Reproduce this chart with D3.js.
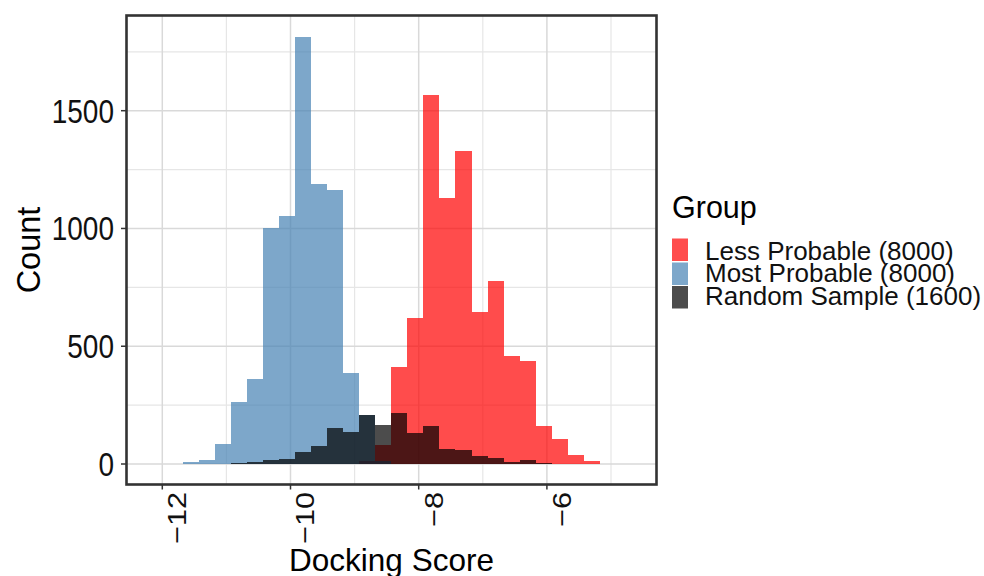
<!DOCTYPE html>
<html>
<head>
<meta charset="utf-8">
<script src="https://cdn.jsdelivr.net/npm/d3@7"></script>
<style>
  html, body { margin: 0; padding: 0; background: #fff; }
  svg { display: block; font-family: "Liberation Sans", Arial, Helvetica, sans-serif; }
</style>
</head>
<body>
<svg id="chart" width="984" height="576"></svg>
<script>
// ---- data ----
const binEdges = [-12.185, -11.935, -11.684, -11.434, -11.183, -10.933, -10.682, -10.432,
  -10.181, -9.931, -9.680, -9.430, -9.179, -8.929, -8.678, -8.428, -8.177, -7.927,
  -7.676, -7.426, -7.175, -6.925, -6.674, -6.424, -6.173, -5.923, -5.672, -5.422,
  -5.171, -4.921, -4.670];
const lessProbable = [2, 0, 0, 0, 0, 0, 0, 0, 0, 0, 0, 0, 0, 12, 81, 411, 619, 1567, 1129,
  1329, 645, 778, 460, 438, 161, 106, 38, 13, 0, 2];
const mostProbable = [0, 0, 10, 16, 84, 265, 360, 1000, 1055, 1814, 1190, 1163, 388, 209,
  14, 0, 0, 0, 0, 0, 0, 0, 0, 0, 0, 0, 0, 0, 0, 0];
const randomSample = [0, 0, 0, 0, 1, 4, 8, 19, 20, 52, 76, 152, 135, 208, 166, 215, 130,
  160, 64, 58, 33, 27, 7, 15, 4, 1, 0, 0, 0, 0];
const groupNames = ["Less Probable (8000)", "Most Probable (8000)", "Random Sample (1600)"];
const groupColors = ["red", "steelblue", "black"];
const xMajorTicks = [-12, -10, -8, -6];
const xMinorTicks = [-11, -9, -7, -5];
const yMajorTicks = [0, 500, 1000, 1500];
const yMinorTicks = [250, 750, 1250, 1750];
const xTitle = "Docking Score";
const yTitle = "Count";
const legendTitle = "Group";

// ---- layout ----
const svg = d3.select("#chart");
const panel = { left: 126.5, top: 15.5, right: 656.5, bottom: 484.5 };
const x = d3.scaleLinear().domain([-12, -5]).range([162.3, 611]);
const y = d3.scaleLinear().domain([0, 1500]).range([464, 110.7]);
const minus = s => String(s).replace("-", "\u2212");

// gridlines
const grid = svg.append("g");
grid.selectAll("line.xmin").data(xMinorTicks).join("line")
  .attr("x1", d => x(d)).attr("x2", d => x(d))
  .attr("y1", panel.top).attr("y2", panel.bottom)
  .attr("stroke", "#e6e6e6").attr("stroke-width", 1.2);
grid.selectAll("line.ymin").data(yMinorTicks).join("line")
  .attr("y1", d => y(d)).attr("y2", d => y(d))
  .attr("x1", panel.left).attr("x2", panel.right)
  .attr("stroke", "#e6e6e6").attr("stroke-width", 1.2);
grid.selectAll("line.xmaj").data(xMajorTicks).join("line")
  .attr("x1", d => x(d)).attr("x2", d => x(d))
  .attr("y1", panel.top).attr("y2", panel.bottom)
  .attr("stroke", "#d9d9d9").attr("stroke-width", 1.5);
grid.selectAll("line.ymaj").data(yMajorTicks).join("line")
  .attr("y1", d => y(d)).attr("y2", d => y(d))
  .attr("x1", panel.left).attr("x2", panel.right)
  .attr("stroke", "#d9d9d9").attr("stroke-width", 1.5);

// bars
const series = [lessProbable, mostProbable, randomSample];
series.forEach((vals, gi) => {
  svg.append("g").selectAll("rect").data(vals).join("rect")
    .attr("x", (d, i) => x(binEdges[i]))
    .attr("width", (d, i) => x(binEdges[i + 1]) - x(binEdges[i]))
    .attr("y", d => y(d))
    .attr("height", d => y(0) - y(d))
    .attr("fill", groupColors[gi])
    .attr("fill-opacity", 0.7)
    .attr("shape-rendering", "crispEdges");
});

// panel border
svg.append("rect")
  .attr("x", panel.left).attr("y", panel.top)
  .attr("width", panel.right - panel.left).attr("height", panel.bottom - panel.top)
  .attr("fill", "none").attr("stroke", "#333333").attr("stroke-width", 2.6);

// y axis ticks + labels
svg.append("g").selectAll("line").data(yMajorTicks).join("line")
  .attr("x1", panel.left - 5.5).attr("x2", panel.left)
  .attr("y1", d => y(d)).attr("y2", d => y(d))
  .attr("stroke", "#333333").attr("stroke-width", 1.5);
svg.append("g").selectAll("text").data(yMajorTicks).join("text")
  .attr("transform", d => `translate(114, ${y(d) + 11.9}) scale(1, 1.18)`)
  .attr("text-anchor", "end")
  .attr("font-size", 28)
  .attr("fill", "#111")
  .text(d => d);

// x axis ticks + labels
svg.append("g").selectAll("line").data(xMajorTicks).join("line")
  .attr("x1", d => x(d)).attr("x2", d => x(d))
  .attr("y1", panel.bottom).attr("y2", panel.bottom + 5)
  .attr("stroke", "#333333").attr("stroke-width", 1.5);
svg.append("g").selectAll("text").data(xMajorTicks).join("text")
  .attr("transform", d => `translate(${x(d) + 23.8}, 492) rotate(-90) scale(1.18, 1)`)
  .attr("text-anchor", "end")
  .attr("font-size", 26)
  .attr("fill", "#111")
  .text(d => minus(d));

// axis titles
svg.append("text")
  .attr("x", (panel.left + panel.right) / 2).attr("y", 571)
  .attr("text-anchor", "middle").attr("font-size", 31.5).attr("fill", "#000")
  .text(xTitle);
svg.append("text")
  .attr("transform", `translate(40, ${(panel.top + panel.bottom) / 2}) rotate(-90)`)
  .attr("text-anchor", "middle").attr("font-size", 32.5).attr("fill", "#000")
  .text(yTitle);

// legend
const legend = svg.append("g");
legend.append("text")
  .attr("x", 672).attr("y", 218)
  .attr("font-size", 30.5).attr("fill", "#000")
  .text(legendTitle);
const keyTops = [238.5, 262.5, 286];
const labelBase = [259.5, 282, 304.5];
legend.selectAll("rect").data(groupNames).join("rect")
  .attr("x", 672).attr("y", (d, i) => keyTops[i])
  .attr("width", 16).attr("height", 22.5)
  .attr("fill", (d, i) => groupColors[i]).attr("fill-opacity", 0.7);
legend.selectAll("text.lab").data(groupNames).join("text")
  .attr("class", "lab")
  .attr("x", 705).attr("y", (d, i) => labelBase[i])
  .attr("font-size", 26).attr("fill", "#111")
  .text(d => d);
</script>
</body>
</html>
